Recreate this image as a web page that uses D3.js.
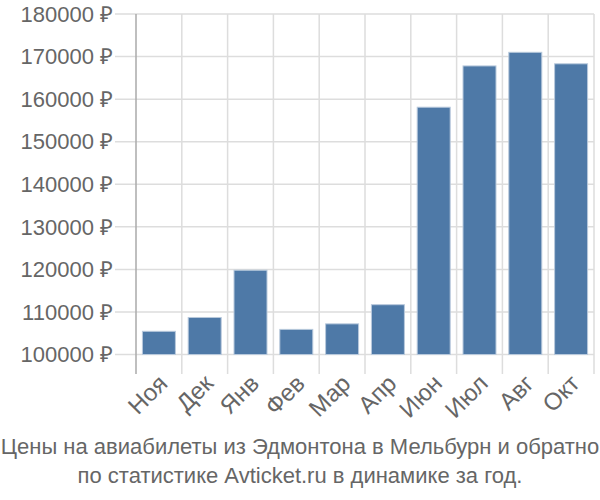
<!DOCTYPE html>
<html>
<head>
<meta charset="utf-8">
<script src="https://cdn.jsdelivr.net/npm/d3@7"></script>
<style>
  body { margin: 0; background: #fff; }
  text { font-family: "Liberation Sans", Arial, sans-serif; fill: #666; }
</style>
</head>
<body>
<div id="chart"></div>
<script>
var months = ['Ноя', 'Дек', 'Янв', 'Фев', 'Мар', 'Апр', 'Июн', 'Июл', 'Авг', 'Окт'];
var prices = [105450, 108700, 119800, 105900, 107200, 111700, 158100, 167800, 171000, 168300];
var yTicks = [100000, 110000, 120000, 130000, 140000, 150000, 160000, 170000, 180000];
var titleLines = ['Цены на авиабилеты из Эдмонтона в Мельбурн и обратно',
                  'по статистике Avticket.ru в динамике за год.'];

var width = 600, height = 500;
var plotLeft = 136, plotRight = 594, plotTop = 14, plotBottom = 354.5;

var svg = d3.select('#chart').append('svg')
  .attr('width', width)
  .attr('height', height);

var x = d3.scaleBand().domain(months).range([plotLeft, plotRight]).paddingInner(0.28).paddingOuter(0.14);
var xEdge = d3.scaleBand().domain(months).range([plotLeft, plotRight]);
var y = d3.scaleLinear().domain([100000, 180000]).range([plotBottom, plotTop]);

// horizontal grid + tick marks
svg.selectAll('.hgrid').data(yTicks).enter().append('line')
  .attr('x1', 115).attr('x2', plotRight)
  .attr('y1', function(d){ return y(d); })
  .attr('y2', function(d){ return y(d); })
  .style('stroke', '#ddd').style('stroke-width', 1.5);

// vertical grid lines
svg.selectAll('.vgrid').data(months).enter().append('line')
  .attr('x1', function(d){ return xEdge(d) + xEdge.step(); })
  .attr('x2', function(d){ return xEdge(d) + xEdge.step(); })
  .attr('y1', plotTop).attr('y2', 374)
  .style('stroke', '#ddd').style('stroke-width', 1.5);

// y axis line
svg.append('line')
  .attr('x1', plotLeft).attr('x2', plotLeft)
  .attr('y1', plotTop).attr('y2', 374)
  .style('stroke', '#aaa').style('stroke-width', 1.5);

svg.selectAll('.ylab').data(yTicks).enter().append('text')
  .attr('x', 113)
  .attr('y', function(d){ return y(d); })
  .attr('dy', '0.35em')
  .attr('text-anchor', 'end')
  .style('font-size', '22px')
  .text(function(d){ return d + ' ₽'; });

svg.selectAll('.bar').data(prices).enter().append('rect')
  .attr('x', function(d, i){ return x(months[i]); })
  .attr('width', x.bandwidth())
  .attr('y', function(d){ return y(d); })
  .attr('height', function(d){ return plotBottom - y(d); })
  .style('fill', '#4e79a7')
  .style('stroke', '#b8c9dc')
  .style('stroke-width', 1);

svg.selectAll('.xlab').data(months).enter().append('text')
  .attr('text-anchor', 'end')
  .style('font-size', '24px')
  .attr('transform', function(d){
    var cx = x(d) + x.bandwidth() / 2 + 4;
    return 'translate(' + cx + ',' + 379 + ') rotate(-45)';
  })
  .attr('dy', '0.35em')
  .text(function(d){ return d; });

svg.selectAll('.title').data(titleLines).enter().append('text')
  .attr('x', 300)
  .attr('y', function(d, i){ return 454 + i * 29; })
  .attr('text-anchor', 'middle')
  .style('font-size', '22px')
  .text(function(d){ return d; });
</script>
</body>
</html>
